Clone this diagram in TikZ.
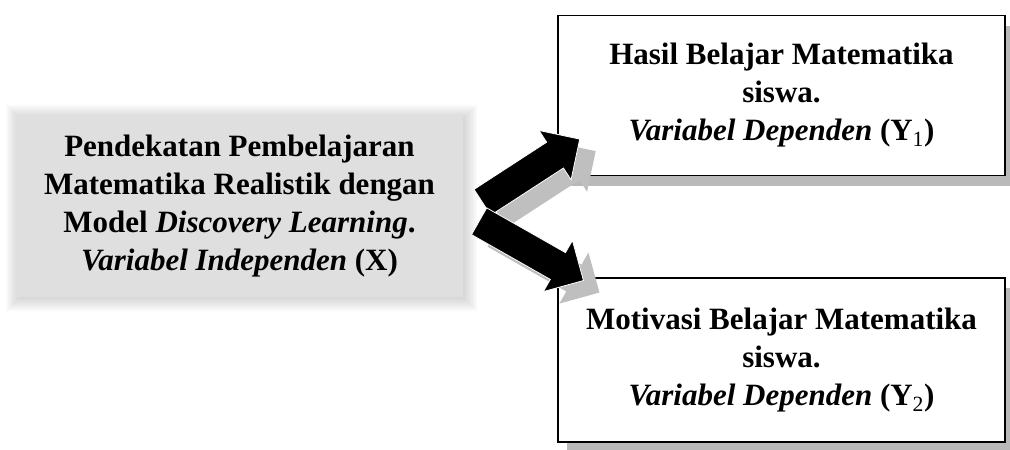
\documentclass[tikz,border=0pt]{standalone}
\usepackage{fontspec}
\setmainfont{Liberation Serif}
\usetikzlibrary{shapes.arrows,shadows,calc,backgrounds}

\tikzset{
  boxtext/.style={align=center, font=\fontsize{31}{38}\selectfont\bfseries},
  varbox/.style={boxtext, fill=gray!25, draw=none, minimum width=447, minimum height=182},
  depbox/.style={boxtext, fill=white, draw=black, line width=1.3pt,
    minimum width=447, minimum height=160,
    drop shadow={shadow xshift=9pt, shadow yshift=-10pt, fill=gray!55, opacity=1}},
  blockarrow/.style={single arrow, fill=black, draw=white, line width=0.8pt,
    inner xsep=0pt, inner ysep=15pt, single arrow head extend=14pt,
    single arrow head indent=0pt,
    drop shadow={shadow xshift=16pt, shadow yshift=-12pt, fill=gray!50, opacity=1}}
}

\begin{document}
\begin{tikzpicture}[x=1pt,y=-1pt]
\useasboundingbox (0,0) rectangle (1010,450);

% independent variable
\node[varbox] (indep) at (239.5,206) {Pendekatan Pembelajaran\\
  Matematika Realistik dengan\\
  Model \textit{Discovery Learning}.\\
  \textit{Variabel Independen} (X)};
\begin{scope}[on background layer]
  \foreach \g in {2,4,...,14}
    \fill[black, opacity=.022] ($(indep.north west)+(-\g+4,-\g+4)$) rectangle ($(indep.south east)+(\g,\g)$);
\end{scope}

% dependent variables
\node[depbox] (hasil) at (781.5,95.5) {Hasil Belajar Matematika\\
  siswa.\\
  \textit{Variabel Dependen} (Y\textsubscript{\mdseries 1})};
\node[depbox, minimum height=164] (motiv) at (781.5,360) {Motivasi Belajar Matematika\\
  siswa.\\
  \textit{Variabel Dependen} (Y\textsubscript{\mdseries 2})};

% arrows
\node[blockarrow, minimum height=116, rotate=33] (toHasil) at (524.6,174.9) {};
\node[blockarrow, minimum height=120, rotate=-29.6] (toMotiv) at (524.6,247.1) {};
\end{tikzpicture}
\end{document}
